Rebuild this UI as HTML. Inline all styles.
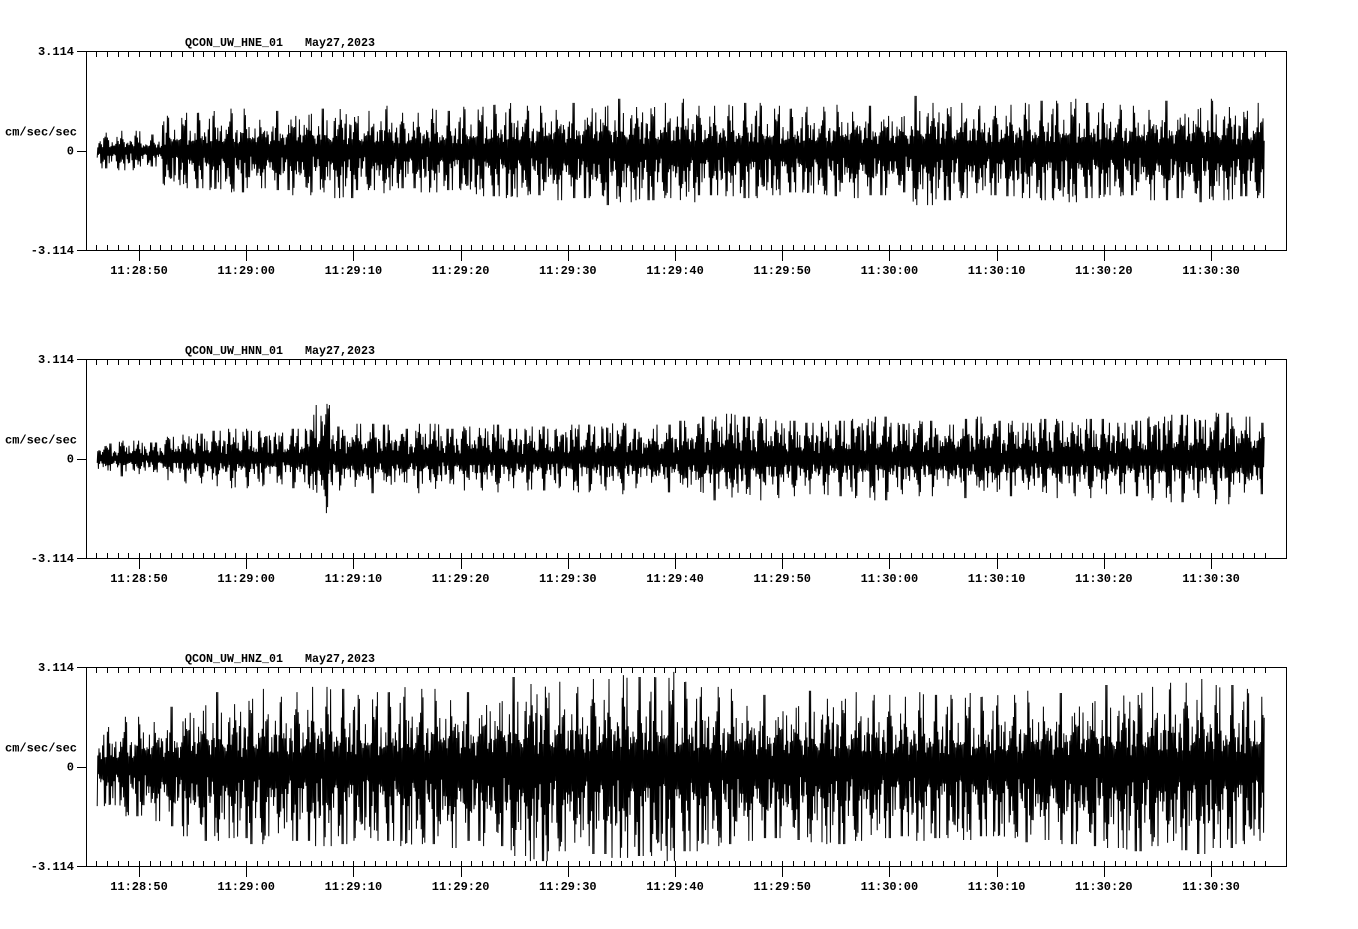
<!DOCTYPE html>
<html><head><meta charset="utf-8"><style>
html,body{margin:0;padding:0;background:#fff;}
svg text{font-family:"Liberation Mono",monospace;font-weight:bold;font-size:12px;fill:#000;white-space:pre;}
</style></head>
<body>
<svg id="chart" width="1358" height="924" viewBox="0 0 1358 924" xmlns="http://www.w3.org/2000/svg"></svg>
<script>
const channels = ["QCON_UW_HNE_01","QCON_UW_HNN_01","QCON_UW_HNZ_01"];
const dateLabel = "May27,2023";
const yMax = 3.114;
const tickLabels = ["11:28:50","11:29:00","11:29:10","11:29:20","11:29:30","11:29:40","11:29:50","11:30:00","11:30:10","11:30:20","11:30:30"];
const traceStart = -3.9;   // seconds relative to 11:28:50
const traceEnd = 105;
const binSeconds = 2;
const envHNE = [.56,.62,.50,1.09,1.18,1.24,1.31,1.18,1.24,1.40,1.31,1.49,1.24,1.40,1.18,1.31,1.24,1.37,1.43,1.49,1.40,1.56,1.49,1.71,1.62,1.56,1.49,1.62,1.40,1.43,1.49,1.40,1.31,1.37,1.43,1.49,1.40,1.31,1.71,1.56,1.49,1.40,1.43,1.49,1.56,1.62,1.49,1.43,1.40,1.56,1.49,1.62,1.56,1.43,1.49];
const envHNN = [.47,.56,.50,.68,.78,.87,.93,.87,.81,.93,1.71,1.0,1.09,1.06,.93,1.09,.93,1.0,1.06,.93,1.0,.93,1.06,1.0,1.12,.93,1.06,1.18,1.31,1.40,1.31,1.24,1.18,1.12,1.18,1.24,1.31,1.12,1.18,1.06,1.24,1.31,1.18,1.12,1.24,1.18,1.24,1.12,1.18,1.31,1.37,1.24,1.43,1.31,1.12];
const envHNZ = [1.24,1.56,1.71,1.87,2.18,2.33,2.24,2.43,2.18,2.33,2.49,2.43,2.24,2.33,2.49,2.43,2.55,2.33,2.49,2.80,2.96,2.65,2.49,2.74,2.86,2.80,2.96,2.65,2.49,2.43,2.33,2.24,2.30,2.37,2.43,2.33,2.24,2.18,2.33,2.24,2.30,2.18,2.24,2.37,2.30,2.43,2.49,2.55,2.65,2.49,2.62,2.74,2.55,2.43,2.33];
const envelopes = [envHNE, envHNN, envHNZ];
const wiggleA = [.35,.8,.2,.55,.95,.3,.6,.15,.7,.4,1,.25,.5,.85,.3,.45,.65,.2,.75,.38,.9,.28,.58,.42,.18,.68];
const wiggleB = [.5,.3,.7,.4,1,.35,.6,.25,.45,.8,.3,.55,.4,.9,.2,.65,.35,.5,.75];

const NS="http://www.w3.org/2000/svg";
const svg=document.getElementById('chart');
const X0=139, PXS=10.72, L=86, R=1286;
const xOf=t=>X0+t*PXS;
function mk(tag,attrs,parent){const e=document.createElementNS(NS,tag);for(const k in attrs)e.setAttribute(k,attrs[k]);(parent||svg).appendChild(e);return e;}

channels.forEach((ch,i)=>{
  const top=51+i*308, bot=top+199, mid=(top+bot)/2;
  const yOf=v=>mid - v/yMax*(bot-mid);
  const g=mk('g',{});
  
  
  const title=mk('text',{x:185,y:top-5,textLength:98,lengthAdjust:'spacingAndGlyphs'},g);
  title.textContent=ch;
  
  
  const dt=mk('text',{x:305,y:top-5,textLength:70,lengthAdjust:'spacingAndGlyphs'},g);
  dt.textContent=dateLabel;
  
  
  let d=`M${L+.5},${top+.5}H${R+.5}V${bot+.5}H${L+.5}Z M77,${top+.5}H${L} M77,${bot+.5}H${L} M77,${Math.round(mid)+.5}H${L}`;
  for(let s=-4;s<=105;s++){
    const x=Math.round(xOf(s))+.5;
    if(s%10===0){d+=` M${x},${bot-5}V${bot+11} M${x},${top}V${top+6}`;}
    else{d+=` M${x},${bot-5}V${bot} M${x},${top}V${top+6}`;}
  }
  const frame=mk('path',{d:d,stroke:'#000','stroke-width':1,fill:'none','shape-rendering':'crispEdges'},g);
  
  
  [[yMax.toFixed(3),top],["0",mid],["-"+yMax.toFixed(3),bot]].forEach(([t,y])=>{
    const e=mk('text',{x:74,y:y+4,'text-anchor':'end'},g);e.textContent=t;
    
    
  });
  const yl=mk('text',{x:5,y:mid-15},g);yl.textContent="cm/sec/sec";
  
  
  tickLabels.forEach((lab,k)=>{
    const e=mk('text',{x:xOf(k*10),y:bot+24,'text-anchor':'middle'},g);e.textContent=lab;
    
    
  });
  const env=envelopes[i];
  let p='';let n=0;
  const x1=xOf(traceStart), x2=xOf(traceEnd);
  for(let x=x1;x<=x2;x+=0.6){
    const t=(x-X0)/PXS;
    const b=Math.min(env.length-1,Math.max(0,Math.floor((t-traceStart)/binSeconds)));
    const w=wiggleA[(n*7+i*5)%wiggleA.length]*wiggleB[(n*5+i*3)%wiggleB.length];
    const a=env[b]*Math.min(1,0.08+w*1.8);
    const sgn=(n%2)?1:-1;
    p+=(n?'L':'M')+x.toFixed(1)+','+yOf(sgn*a).toFixed(1);
    n++;
  }
  const tr=mk('path',{d:p,stroke:'#000','stroke-width':1,fill:'none'},g);
  
  
});
</script>
</body></html>
